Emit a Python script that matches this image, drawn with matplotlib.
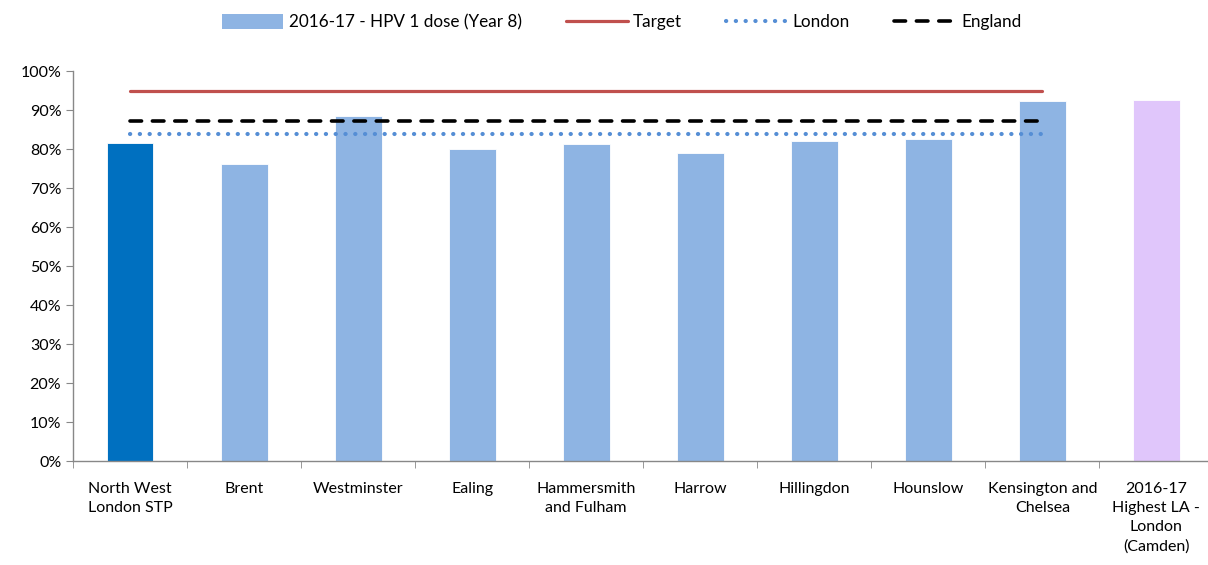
import numpy as np
import matplotlib
matplotlib.use("Agg")
import matplotlib.pyplot as plt
from matplotlib.patches import Patch
from matplotlib.ticker import PercentFormatter

plt.rcParams['font.family'] = ['Lato', 'DejaVu Sans']

categories = ["North West\nLondon STP", "Brent", "Westminster", "Ealing",
              "Hammersmith\nand Fulham", "Harrow", "Hillingdon", "Hounslow",
              "Kensington and\nChelsea", "2016-17\nHighest LA -\nLondon\n(Camden)"]
uptake = [81.7, 76.2, 88.6, 80.0, 81.3, 79.0, 82.2, 82.7, 92.4, 92.5]
bar_colors = ["#0070C0"] + ["#8EB4E3"] * 8 + ["#E0C6FB"]

target = 95.0
london = 83.9
england = 87.3
n_ref = 9  # reference lines span the STP and its 8 LAs

fig = plt.figure(figsize=(12.08, 5.65), dpi=100)
ax = fig.add_axes([0.0605, 0.184, 0.944, 0.690])

x = np.arange(len(categories))
ax.bar(x, uptake, width=0.41, color=bar_colors, edgecolor="white", linewidth=0.6,
       zorder=2)

xr = x[:n_ref]
h_t, = ax.plot(xr, [target] * n_ref, color="#C0504D", lw=2.3, solid_capstyle="round",
               label="Target", zorder=3)
h_l, = ax.plot(xr, [london] * n_ref, color="#558ED5", lw=3.0, linestyle=(0, (0.05, 2.3)),
               dash_capstyle="round", label="London", zorder=3)
h_e, = ax.plot(xr, [england] * n_ref, color="black", lw=2.6, linestyle=(0, (3.2, 3.0)),
               dash_capstyle="round", label="England", zorder=3)
h_b = Patch(facecolor="#8EB4E3", label="2016-17 - HPV 1 dose (Year 8)")

ax.set_xlim(-0.5, len(categories) - 0.5)
ax.set_ylim(0, 100)
ax.set_yticks(np.arange(0, 101, 10))
ax.yaxis.set_major_formatter(PercentFormatter(decimals=0))
ax.set_xticks(x)
ax.set_xticklabels(categories, fontsize=11.5, linespacing=1.45, va="top")
ax.set_xticks(np.arange(-0.5, len(categories), 1), minor=True)
ax.tick_params(axis="x", which="major", length=0, pad=15)
ax.tick_params(axis="x", which="minor", length=5, color="#888888", direction="out")
ax.tick_params(axis="y", length=5, color="#888888", labelsize=11.5, direction="out")

for s in ["top", "right"]:
    ax.spines[s].set_visible(False)
for s in ["left", "bottom"]:
    ax.spines[s].set_color("#888888")
    ax.spines[s].set_linewidth(1.0)

ax.legend(handles=[h_b, h_t, h_l, h_e], loc="center", bbox_to_anchor=(0.481, 1.126),
          ncol=4, frameon=False, fontsize=12.3, handlelength=3.6, handleheight=1.0,
          columnspacing=2.6, handletextpad=0.3)

fig.savefig("out.png", dpi=100)
